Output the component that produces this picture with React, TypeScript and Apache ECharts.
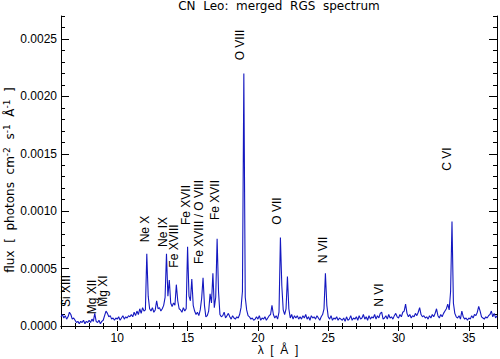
import React, { useEffect, useRef } from "react";
import * as echarts from "echarts";

// Flux values in units of 1e-4 photons cm^-2 s^-1 Å^-1, sampled every 0.1 Å
const STEP = 0.1;
const fluxFrom6 = [
  0.8, 1.0, 0.7, 0.9, 0.6, 0.8, 1.2, 1.0, 0.6, 0.7,
  0.5, 0.3, 0.4, 0.2, 0.4, 0.3, 0.5, 0.2, 0.4, 0.3,
  0.5, 0.3, 0.6, 0.4, 1.1, 0.4, 0.3, 0.5, 0.2, 0.4,
  0.5, 0.9, 1.3, 1.1, 0.8, 0.9, 0.6, 0.7, 0.5, 0.7,
  0.6, 0.8, 0.5, 0.7, 0.9, 0.6, 0.8, 0.7, 0.9, 0.8,
];
const fluxFrom11 = [
  1.0, 0.8, 1.2, 0.9, 1.3, 1.0, 1.5, 1.1, 1.6, 1.3,
  1.4, 6.3, 2.6, 1.5, 1.3, 1.6, 1.2, 1.4, 2.2, 1.5,
  1.6, 1.3, 1.5, 1.8, 2.5, 6.3, 2.6, 4.0, 2.0, 1.7,
  2.0, 1.8, 3.6, 2.2, 1.5, 1.4, 1.2, 1.6, 1.3, 1.5,
  6.9, 2.6, 2.2, 4.1, 1.8, 1.3, 1.0, 1.2, 0.9, 1.4,
];
const fluxFrom16 = [
  2.4, 4.2, 1.8, 0.8, 0.9, 1.3, 2.8, 2.0, 4.6, 1.6,
  2.5, 7.6, 3.0, 1.0, 0.8, 0.9, 1.2, 0.7, 0.9, 1.1,
  0.8, 0.6, 0.9, 0.7, 0.6, 0.8, 0.7, 1.0, 1.6, 3.0,
  22.0, 2.5, 1.4, 0.9, 0.8, 0.6, 0.7, 0.5, 0.6, 0.8,
  0.6, 0.9, 0.5, 0.7, 0.6, 0.8, 0.5, 0.7, 0.9, 1.0,
];
const fluxFrom21 = [
  1.8, 1.0, 0.7, 0.9, 0.6, 1.2, 7.7, 3.5, 1.4, 1.0,
  1.5, 4.3, 1.5, 0.7, 1.0, 0.6, 0.9, 0.7, 0.9, 0.6,
  0.8, 0.6, 0.9, 0.7, 1.0, 0.6, 0.8, 0.5, 0.9, 0.7,
  0.8, 0.6, 0.9, 0.7, 0.5, 0.8, 1.0, 1.5, 4.6, 1.8,
  0.8, 0.6, 0.9, 0.5, 0.7, 0.6, 0.8, 0.5, 0.7, 0.6,
];
const fluxFrom26 = [
  0.5, 0.7, 0.4, 0.8, 0.5, 0.6, 0.9, 0.5, 0.7, 0.6,
  0.8, 0.5, 0.9, 0.6, 0.7, 1.0, 0.6, 0.8, 0.5, 0.9,
  0.6, 0.8, 0.7, 1.0, 0.6, 0.9, 0.7, 1.1, 1.2, 0.6,
  0.7, 0.9, 0.6, 1.0, 0.7, 0.8, 0.6, 0.9, 1.1, 0.8,
  0.7, 1.0, 0.8, 1.2, 1.3, 1.9, 1.1, 0.8, 1.0, 0.7,
];
const fluxFrom31 = [
  0.9, 0.8, 1.1, 0.9, 1.2, 1.6, 1.0, 0.8, 0.9, 0.7,
  0.8, 0.6, 0.9, 0.7, 1.0, 0.8, 1.1, 1.5, 0.9, 0.7,
  1.0, 0.8, 1.1, 1.3, 1.5, 1.9, 1.4, 3.0, 9.1, 2.0,
  1.1, 0.8, 0.7, 0.9, 0.6, 1.3, 0.8, 0.6, 0.7, 0.5,
  0.7, 0.6, 0.9, 0.7, 1.0, 0.9, 1.2, 1.7, 1.3, 0.8,
  0.7, 0.6, 0.8, 0.7, 0.9, 1.0, 1.3, 0.8, 1.1, 0.7,
  0.9,
];
const segments = [
  { start: 6, values: fluxFrom6 },
  { start: 11, values: fluxFrom11 },
  { start: 16, values: fluxFrom16 },
  { start: 21, values: fluxFrom21 },
  { start: 26, values: fluxFrom26 },
  { start: 31, values: fluxFrom31 },
];

const xMajorTicks = [10, 15, 20, 25, 30, 35];
const yMajorTicks = [0, 0.0005, 0.001, 0.0015, 0.002, 0.0025];

const lineNames = [
  "Si XIII", "Mg XII", "Mg XI", "Ne X", "Ne IX", "Fe XVIII", "Fe XVII",
  "Fe XVIII / O VIII", "Fe XVII", "O VIII", "O VII", "N VII", "N VI", "C VI",
];
// label centres (pixels)
const labelPos: [number, number][] = [
  [66, 291], [92, 297], [103, 291], [145, 229], [163, 232], [174, 246], [186, 205],
  [199, 222], [215, 200], [240, 45], [277, 211], [323, 250], [379, 295], [447, 159],
];

const FONT = '"Liberation Sans", Arial, sans-serif';
const WIDE = '"DejaVu Sans", sans-serif';

export default function App() {
  const ref = useRef<HTMLDivElement>(null);
  useEffect(() => {
    if (!ref.current) return;
    const chart = echarts.init(ref.current, undefined, { renderer: "svg" });
    const data: [number, number][] = [];
    segments.forEach(({ start, values }) => {
      values.forEach((v, i) => {
        data.push([+(start + i * STEP).toFixed(1), v * 1e-4]);
      });
    });
    const xBase = {
      type: "value" as const,
      min: 6,
      max: 37,
      splitLine: { show: false },
    };
    const yBase = {
      type: "value" as const,
      min: 0,
      max: 0.0027,
      splitLine: { show: false },
    };
    const black = { color: "#000", width: 1 };
    chart.setOption({
      animation: false,
      backgroundColor: "#fff",
      grid: { left: 61, right: 3, top: 16, bottom: 33, containLabel: false },
      xAxis: [
        {
          ...xBase,
          position: "bottom",
          interval: 1,
          axisLine: { show: true, lineStyle: black },
          axisTick: { show: true, inside: true, length: 3, lineStyle: black },
          axisLabel: { show: false },
        },
        {
          ...xBase,
          position: "bottom",
          axisLine: { show: false },
          axisTick: { show: true, inside: true, length: 5, lineStyle: black, customValues: xMajorTicks },
          axisLabel: {
            show: true,
            customValues: xMajorTicks,
            color: "#000",
            fontSize: 12,
            fontFamily: FONT,
            margin: 6,
          },
        },
        {
          ...xBase,
          position: "top",
          interval: 1,
          axisLine: { show: true, lineStyle: black },
          axisTick: { show: true, inside: true, length: 3, lineStyle: black },
          axisLabel: { show: false },
        },
        {
          ...xBase,
          position: "top",
          axisLine: { show: false },
          axisTick: { show: true, inside: true, length: 5, lineStyle: black, customValues: xMajorTicks },
          axisLabel: { show: false },
        },
      ],
      yAxis: [
        {
          ...yBase,
          position: "left",
          interval: 0.0001,
          axisLine: { show: true, lineStyle: black },
          axisTick: { show: true, inside: true, length: 4, lineStyle: black },
          axisLabel: { show: false },
        },
        {
          ...yBase,
          position: "left",
          axisLine: { show: false },
          axisTick: { show: true, inside: true, length: 8, lineStyle: black, customValues: yMajorTicks },
          axisLabel: {
            show: true,
            customValues: yMajorTicks,
            formatter: (v: number) => v.toFixed(4),
            color: "#000",
            fontSize: 12,
            fontFamily: FONT,
            margin: 4,
          },
        },
        {
          ...yBase,
          position: "right",
          interval: 0.0001,
          axisLine: { show: true, lineStyle: black },
          axisTick: { show: true, inside: true, length: 4, lineStyle: black },
          axisLabel: { show: false },
        },
        {
          ...yBase,
          position: "right",
          axisLine: { show: false },
          axisTick: { show: true, inside: true, length: 8, lineStyle: black, customValues: yMajorTicks },
          axisLabel: { show: false },
        },
      ],
      series: [
        {
          type: "line",
          xAxisIndex: 0,
          yAxisIndex: 0,
          data,
          showSymbol: false,
          symbol: "none",
          lineStyle: { color: "#1418c0", width: 1.1 },
          z: 1,
        },
      ],
      graphic: [
        {
          type: "text",
          x: 279,
          y: 6,
          style: {
            text: "CN  Leo:  merged  RGS  spectrum",
            fill: "#000",
            font: `12px ${WIDE}`,
            align: "center",
            verticalAlign: "middle",
          },
        },
        {
          type: "text",
          x: 278,
          y: 350,
          style: {
            text: "λ  [  Å  ]",
            fill: "#000",
            font: `12px ${FONT}`,
            align: "center",
            verticalAlign: "middle",
          },
        },
        {
          type: "text",
          x: 10,
          y: 180,
          rotation: Math.PI / 2,
          style: {
            text: "flux  [  photons  cm{sup|-2}  s{sup|-1}  Å{sup|-1}  ]",
            fill: "#000",
            font: `12px ${WIDE}`,
            align: "center",
            verticalAlign: "middle",
            rich: {
              sup: { fontSize: 9, fontFamily: WIDE, verticalAlign: "top", lineHeight: 16, fill: "#000" },
            },
          },
        },
        ...lineNames.map((name, i) => ({
          type: "text",
          x: labelPos[i][0],
          y: labelPos[i][1],
          rotation: Math.PI / 2,
          style: {
            text: name,
            fill: "#000",
            font: `12px ${FONT}`,
            align: "center",
            verticalAlign: "middle",
          },
        })),
      ],
    });
    return () => chart.dispose();
  }, []);
  return (
    <div
      ref={ref}
      style={{ position: "fixed", left: 0, top: 0, width: 500, height: 359 }}
    />
  );
}
